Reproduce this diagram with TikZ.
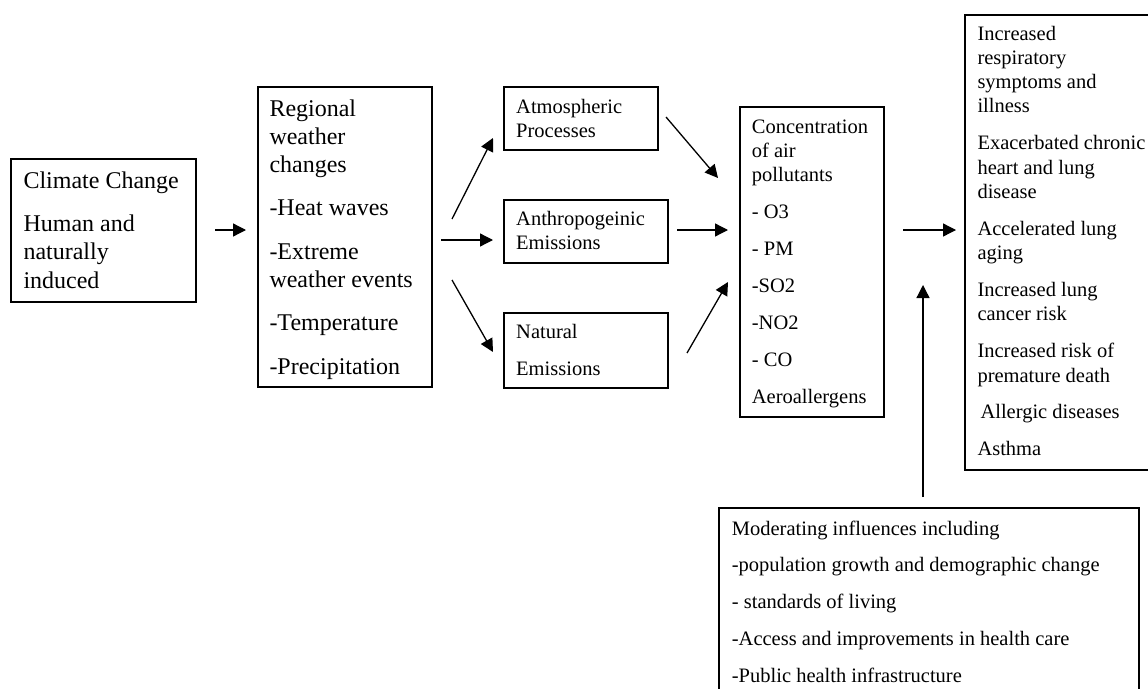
\documentclass[tikz,border=0pt]{standalone}
\usepackage{fontspec}
\setmainfont{Liberation Serif}
\usetikzlibrary{arrows.meta}
\newcommand\LineT[1]{\hbox{#1}}
\newcommand\GapBig{\vskip 15pt}
\newcommand\GapSm{\vskip 12.6pt}
\begin{document}
\begin{tikzpicture}[x=1pt,y=-1pt,
  box/.style={draw, line width=1.8pt, inner sep=0pt, anchor=north west},
  bigtxt/.style={anchor=base west, inner sep=0pt, font=\fontsize{24}{28.3}\selectfont},
  smtxt/.style={anchor=base west, inner sep=0pt, font=\fontsize{20.5}{24.3}\selectfont},
  arr/.style={line width=1.3pt, -{Triangle[length=13pt,width=13pt]}}]
\useasboundingbox (0,0) rectangle (1148,688);
\fill[white] (0,0) rectangle (1148,688);
\clip (0,0) rectangle (1148,688);

% boxes
\node[box, minimum width=185pt, minimum height=143pt] (cc) at (10,158) {};
\node[box, minimum width=174pt, minimum height=300pt] (rw) at (257,86) {};
\node[box, minimum width=154pt, minimum height=63pt] (ap) at (503,86) {};
\node[box, minimum width=164pt, minimum height=63pt] (ae) at (503,199) {};
\node[box, minimum width=164pt, minimum height=75pt] (ne) at (503,312) {};
\node[box, minimum width=144pt, minimum height=310pt] (cp) at (739,106) {};
\node[box, minimum width=200pt, minimum height=455pt] (he) at (964,14) {};
\node[box, minimum width=420pt, minimum height=200pt] (mi) at (718,507) {};

% texts
\node[bigtxt] (cct) at (23.3,188.3) {\vtop{\LineT{Climate Change}\GapBig\LineT{Human and}\LineT{naturally}\LineT{induced}}};
\node[bigtxt] (rwt) at (269.3,116) {\vtop{\LineT{Regional}\LineT{weather}\LineT{changes}\GapBig\LineT{-Heat waves}\GapBig\LineT{-Extreme}\LineT{weather events}\GapBig\LineT{-Temperature}\GapBig\LineT{-Precipitation}}};
\node[smtxt] (apt) at (516,113.3) {\vtop{\LineT{Atmospheric}\LineT{Processes}}};
\node[smtxt] (aet) at (516,225) {\vtop{\LineT{Anthropogeinic}\LineT{Emissions}}};
\node[smtxt] (net) at (516,338.3) {\vtop{\LineT{Natural}\GapSm\LineT{Emissions}}};
\node[smtxt] (cpt) at (751.7,133.3) {\vtop{\LineT{Concentration}\LineT{of air}\LineT{pollutants}\GapSm\LineT{- O3}\GapSm\LineT{- PM}\GapSm\LineT{-SO2}\GapSm\LineT{-NO2}\GapSm\LineT{- CO}\GapSm\LineT{Aeroallergens}}};
\node[smtxt] (het) at (977.3,40) {\vtop{\LineT{Increased}\LineT{respiratory}\LineT{symptoms and}\LineT{illness}\GapSm\LineT{Exacerbated chronic}\LineT{heart and lung}\LineT{disease}\GapSm\LineT{Accelerated lung}\LineT{aging}\GapSm\LineT{Increased lung}\LineT{cancer risk}\GapSm\LineT{Increased risk of}\LineT{premature death}\GapSm\LineT{\hspace{3pt}Allergic diseases}\GapSm\LineT{Asthma}}};
\node[smtxt] (mit) at (731.7,535) {\vtop{\LineT{Moderating influences including}\GapSm\LineT{-population growth and demographic change}\GapSm\LineT{- standards of living}\GapSm\LineT{-Access and improvements in health care}\GapSm\LineT{-Public health infrastructure}}};

% arrow end points
\coordinate (a1s) at (215,230);  \coordinate (a1e) at (246,230);
\coordinate (a2s) at (452,219);  \coordinate (a2e) at (493,138);
\coordinate (a3s) at (441,240);  \coordinate (a3e) at (493,240);
\coordinate (a4s) at (452,280);  \coordinate (a4e) at (493,352);
\coordinate (a5s) at (666,117);  \coordinate (a5e) at (718,178);
\coordinate (a6s) at (677,230);  \coordinate (a6e) at (728,230);
\coordinate (a7s) at (687,353);  \coordinate (a7e) at (728,282);
\coordinate (a8s) at (903,230);  \coordinate (a8e) at (956,230);
\coordinate (a9s) at (923,497);  \coordinate (a9e) at (923,285);

\draw[arr] (a1s) -- (a1e);
\draw[arr] (a2s) -- (a2e);
\draw[arr] (a3s) -- (a3e);
\draw[arr] (a4s) -- (a4e);
\draw[arr] (a5s) -- (a5e);
\draw[arr] (a6s) -- (a6e);
\draw[arr] (a7s) -- (a7e);
\draw[arr] (a8s) -- (a8e);
\draw[arr] (a9s) -- (a9e);
\end{tikzpicture}
\end{document}
